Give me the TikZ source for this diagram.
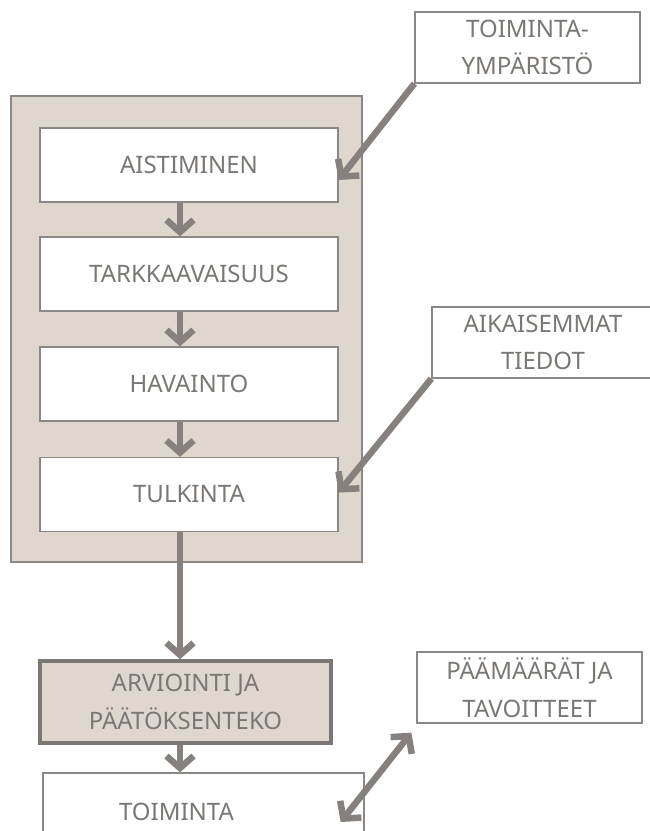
\documentclass[tikz,border=0pt]{standalone}
\usepackage{fontspec}
\setmainfont{Noto Sans}
\usetikzlibrary{arrows.meta}

\definecolor{frameGray}{HTML}{8B8785}
\definecolor{arrowGray}{HTML}{86817E}
\definecolor{textGray}{HTML}{7B7774}
\definecolor{beige}{HTML}{DFD7CE}

\begin{document}
\begin{tikzpicture}[x=1pt,y=-1pt,
        font=\fontsize{24}{37.5}\selectfont,
        whiteBox/.style = {draw=frameGray,line width=1.3pt,fill=white,text=textGray,align=center,inner sep=0pt,minimum width=298pt,minimum height=74pt},
        sideBox/.style = {whiteBox,minimum width=225pt,minimum height=71pt}, % boxes on the right
        beigeBox/.style = {whiteBox,fill=beige,draw=textGray,line width=3.5pt,minimum width=291pt,minimum height=82pt},
        outerBox/.style = {draw=frameGray,line width=1.3pt,fill=beige},
        flowArrow/.style = {draw=arrowGray,line width=6.5pt,-{Straight Barb[length=12pt,width=27pt]}},
        bothArrow/.style = {flowArrow,{Straight Barb[length=12pt,width=27pt]}-{Straight Barb[length=12pt,width=27pt]}}
        ]
        \useasboundingbox (0,0) rectangle (650,831);
        \clip (0,0) rectangle (650,831);
        \path[outerBox] (11,96) rectangle (362,562);
        % boxes
        \node[whiteBox] (aist) at (189,165) {AISTIMINEN};
        \node[whiteBox] (tark) at (189,274) {TARKKAAVAISUUS};
        \node[whiteBox] (hav) at (189,384) {HAVAINTO};
        \node[whiteBox] (tulk) at (189,494.5) {TULKINTA};
        \node[beigeBox] (arv) at (185.5,702) {ARVIOINTI JA\\PÄÄTÖKSENTEKO};
        \node[whiteBox,minimum width=321pt,minimum height=78pt,
            label={[text=textGray,xshift=-27pt]center:TOIMINTA}] (act) at (203.5,812) {};
        \node[sideBox] (env) at (527.5,47.5) {TOIMINTA-\\YMPÄRISTÖ};
        \node[sideBox,minimum width=222pt] (prior) at (543,342.5) {AIKAISEMMAT\\TIEDOT};
        \node[sideBox] (goals) at (529.5,687.5) {PÄÄMÄÄRÄT JA\\TAVOITTEET};
        % arrows
        \draw[flowArrow] ([xshift=-9pt]aist.south) -- ([xshift=-9pt]tark.north);
        \draw[flowArrow] ([xshift=-9pt]tark.south) -- ([xshift=-9pt]hav.north);
        \draw[flowArrow] ([xshift=-9pt]hav.south) -- ([xshift=-9pt]tulk.north);
        \draw[flowArrow] ([xshift=-9pt]tulk.south) -- ([xshift=-5.5pt]arv.north);
        \draw[flowArrow] ([xshift=-5.5pt]arv.south) -- ([xshift=-23.5pt]act.north);
        \draw[flowArrow] (env.south west) -- ([yshift=-15pt]aist.east);
        \draw[flowArrow] (prior.south west) -- ([yshift=2pt]tulk.east);
        \draw[bothArrow] ([shift={(-24pt,-10pt)}]act.east) -- ([shift={(-5pt,-9pt)}]goals.south west);
    \end{tikzpicture}
\end{document}
